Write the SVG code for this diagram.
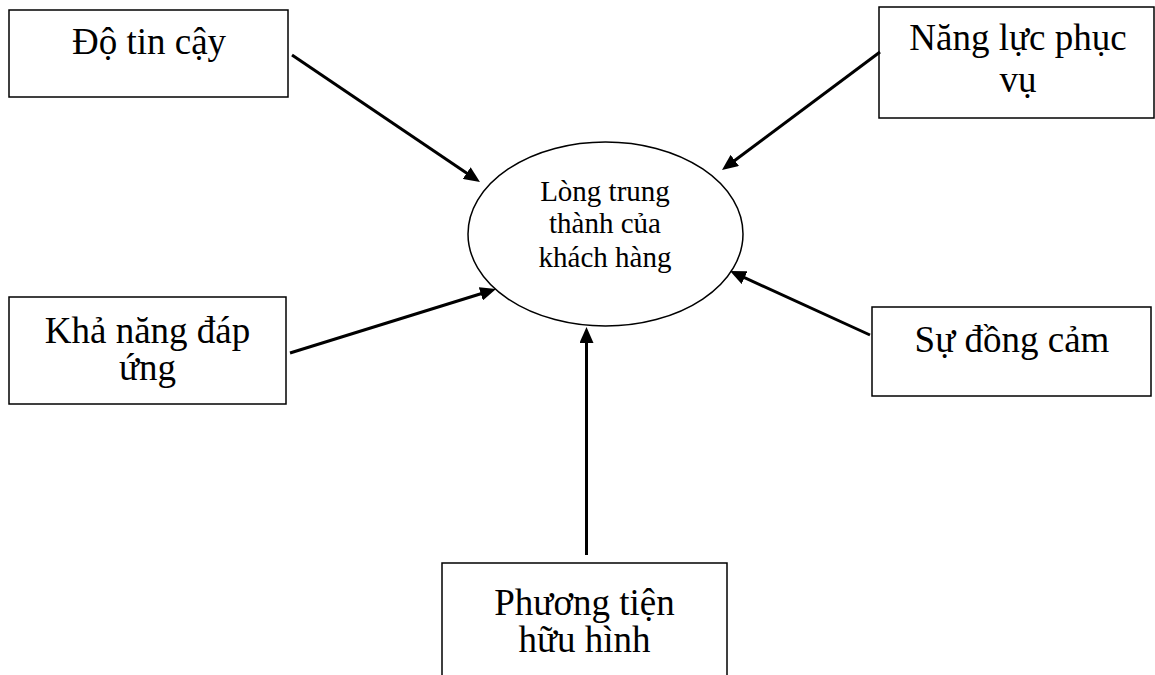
<svg xmlns="http://www.w3.org/2000/svg" width="1155" height="675" viewBox="0 0 1155 675">
<style>
.box{fill:#fff;stroke:#000;stroke-width:1.5}
.t{font-family:"Liberation Serif","Times New Roman",serif;font-size:37px;fill:#000;text-anchor:middle}
.tc{font-family:"Liberation Serif","Times New Roman",serif;font-size:29px;fill:#000;text-anchor:middle}
.arr{stroke:#000;stroke-width:3;fill:none;marker-end:url(#ah)}
</style>
<defs>
<marker id="ah" markerUnits="userSpaceOnUse" markerWidth="16" markerHeight="14" refX="6" refY="7" orient="auto">
<path d="M0,0 L16,7 L0,14 z" fill="#000"/>
</marker>
</defs>
<rect width="1155" height="675" fill="#fff"/>
<g id="center">
<ellipse cx="605.5" cy="234" rx="137.5" ry="92" fill="#fff" stroke="#000" stroke-width="1.5"/>
<text class="tc" x="605" y="201">Lòng trung</text>
<text class="tc" x="605" y="233">thành của</text>
<text class="tc" x="605" y="267">khách hàng</text>
</g>
<g id="n-dotincay">
<rect class="box" x="9" y="10" width="279" height="87"/>
<text class="t" x="149" y="54">Độ tin cậy</text>
</g>
<g id="n-nangluc">
<rect class="box" x="879" y="7" width="275" height="111"/>
<text class="t" x="1018" y="50">Năng lực phục</text>
<text class="t" x="1018" y="92">vụ</text>
</g>
<g id="n-khanang">
<rect class="box" x="9" y="297" width="277" height="107"/>
<text class="t" x="147.5" y="343">Khả năng đáp</text>
<text class="t" x="147.5" y="380">ứng</text>
</g>
<g id="n-dongcam">
<rect class="box" x="872" y="307" width="279" height="89"/>
<text class="t" x="1012" y="352">Sự đồng cảm</text>
</g>
<g id="n-phuongtien">
<rect class="box" x="442" y="563" width="285" height="130"/>
<text class="t" x="584.5" y="615">Phương tiện</text>
<text class="t" x="584.5" y="652">hữu hình</text>
</g>
<g id="connectors">
<line class="arr" x1="292" y1="55" x2="471.7" y2="176.4"/>
<line class="arr" x1="880" y1="52" x2="730" y2="164"/>
<line class="arr" x1="290" y1="353" x2="486.5" y2="292"/>
<line class="arr" x1="870" y1="335" x2="739.1" y2="275.2"/>
<line class="arr" x1="586.5" y1="555" x2="586.5" y2="337"/>
</g>
</svg>
